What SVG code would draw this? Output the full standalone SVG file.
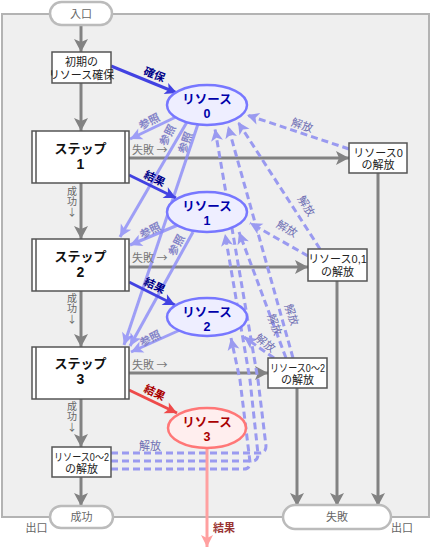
<svg xmlns="http://www.w3.org/2000/svg" width="431" height="549" viewBox="0 0 431 549">
<style>
text{font-family:"Liberation Sans","Noto Sans CJK JP",sans-serif;font-size:11px;text-anchor:middle;fill:#222}
.box{fill:#fff;stroke:#555;stroke-width:1.5}
.pill{fill:#fff;stroke:#bbb;stroke-width:2.5}
.res{fill:#eeeeff;stroke:#7777ff;stroke-width:2.5}
.res3{fill:#ffeeee;stroke:#ff7777;stroke-width:2.5}
.rt{fill:#0000aa;font-weight:bold;font-size:12.5px}
.rt3{fill:#aa0000;font-weight:bold;font-size:12.5px}
.st{font-weight:bold;font-size:13px;fill:#111}
.sn{font-size:14px}
.gl{fill:#666}
.sv{fill:#666;font-size:10px;font-family:"Noto Sans CJK JP",sans-serif;writing-mode:vertical-rl;text-orientation:upright;text-anchor:start;letter-spacing:0.5px}
.cj{font-family:"Noto Sans CJK JP",sans-serif}
.fl{fill:#777;text-anchor:start}
.sm{font-size:10.5px}
.g{fill:none;stroke:#828282;stroke-width:3;marker-end:url(#ag)}
.b{fill:none;stroke:#4242e2;stroke-width:3;marker-end:url(#ab)}
.r{fill:none;stroke:#ee4a4a;stroke-width:3;marker-end:url(#ar)}
.p{fill:none;stroke:#ffa0a0;stroke-width:3;marker-end:url(#ap)}
.l{fill:none;stroke:#8a8af8;stroke-width:3;opacity:0.8;marker-end:url(#al)}
.d{fill:none;stroke:#9a9af0;stroke-width:3;stroke-dasharray:7 4;marker-end:url(#ad)}
.bl{fill:#000088;font-weight:bold}
.rl{fill:#aa0000;font-weight:bold}
.sl{fill:#8484c8;font-weight:bold}
.kl{fill:#7070b4}
</style>
<defs>
<marker id="ag" viewBox="-13 -8 14 16" refX="0" refY="0" markerWidth="14" markerHeight="16" orient="auto" markerUnits="userSpaceOnUse"><path d="M-13,-7 L0,0 L-13,7 L-10,0 z" fill="#828282"/></marker>
<marker id="ab" viewBox="-13 -8 14 16" refX="0" refY="0" markerWidth="14" markerHeight="16" orient="auto" markerUnits="userSpaceOnUse"><path d="M-12,-6 L0,0 L-12,6 L-9,0 z" fill="#4242e2"/></marker>
<marker id="ar" viewBox="-13 -8 14 16" refX="0" refY="0" markerWidth="14" markerHeight="16" orient="auto" markerUnits="userSpaceOnUse"><path d="M-12,-6 L0,0 L-12,6 L-9,0 z" fill="#ee4a4a"/></marker>
<marker id="ap" viewBox="-13 -8 14 16" refX="0" refY="0" markerWidth="14" markerHeight="16" orient="auto" markerUnits="userSpaceOnUse"><path d="M-12,-6 L0,0 L-12,6 L-9,0 z" fill="#ffa0a0"/></marker>
<marker id="al" viewBox="-13 -8 14 16" refX="0" refY="0" markerWidth="14" markerHeight="16" orient="auto" markerUnits="userSpaceOnUse"><path d="M-12,-6 L0,0 L-12,6 L-9,0 z" fill="#8a8af8"/></marker>
<marker id="ad" viewBox="-13 -8 14 16" refX="0" refY="0" markerWidth="14" markerHeight="16" orient="auto" markerUnits="userSpaceOnUse"><path d="M-12,-6 L0,0 L-12,6 L-9,0 z" fill="#9a9af0"/></marker>
</defs>

<rect x="2" y="14" width="427" height="503" fill="#efefef" stroke="#b3b3b3" stroke-width="2"/>

<g id="connectors">
<path class="g" d="M81,25 V52"/>
<path class="g" d="M81,83 V131"/>
<path class="g" d="M81,183 V239"/>
<path class="g" d="M81,291 V347"/>
<path class="g" d="M81,399 V447"/>
<path class="g" d="M81,477 V506"/>
<path class="g" d="M129,158 H349"/>
<path class="g" d="M129,267 H308"/>
<path class="g" d="M129,373 H268"/>
<path class="g" d="M378,173 V506"/>
<path class="g" d="M337,281 V506"/>
<path class="g" d="M297,388 V506"/>

<path class="d" d="M349,149 L247,115"/>
<path class="d" d="M320,249 L238,122"/>
<path class="d" d="M308,256 L250,223"/>
<path class="d" d="M293,358 L228,126"/>
<path class="d" d="M286,358 L239,232"/>
<path class="d" d="M274,358 L244,337"/>
<path class="d" d="M111,453 H260 Q266,453 266,446 L258,380 L215,129"/>
<path class="d" d="M111,461 H252 Q258,461 258,454 L250,380 L225,234"/>
<path class="d" d="M111,469 H244 Q250,469 250,462 L240,380 L231,338"/>

<path class="l" d="M178,116 L130,139"/>
<path class="l" d="M187,122 L120,237"/>
<path class="l" d="M198,124 L124,345"/>
<path class="l" d="M178,225 L130,245"/>
<path class="l" d="M193,232 L130,346"/>
<path class="l" d="M180,330 L131,352"/>

<path class="b" d="M111,66 L177,93"/>
<path class="b" d="M129,175 L176,198"/>
<path class="b" d="M129,282 L175,305"/>
<path class="r" d="M129,390 L177,413"/>
<path class="p" d="M207,448 V547"/>

<text class="bl" transform="translate(153,78) rotate(22)">確保</text>
<text class="bl" transform="translate(153,182) rotate(26)">結果</text>
<text class="bl" transform="translate(153,289) rotate(26)">結果</text>
<text class="rl" transform="translate(153,396) rotate(26)">結果</text>
<text class="sl" transform="translate(151,125) rotate(-27)">参照</text>
<text class="sl" transform="translate(171,137) rotate(-62)">参照</text>
<text class="sl" transform="translate(189,144) rotate(-70)">参照</text>
<text class="sl" transform="translate(152,234) rotate(-27)">参照</text>
<text class="sl" transform="translate(180,247) rotate(-62)">参照</text>
<text class="sl" transform="translate(152,342) rotate(-27)">参照</text>
<text class="kl" transform="translate(301,129) rotate(18)">解放</text>
<text class="kl" transform="translate(303,208) rotate(58)">解放</text>
<text class="kl" transform="translate(285,232) rotate(30)">解放</text>
<text class="kl" transform="translate(288,316) rotate(72)">解放</text>
<text class="kl" transform="translate(271,326) rotate(70)">解放</text>
<text class="kl" transform="translate(263,346) rotate(38)">解放</text>
<text class="kl" x="150" y="450">解放</text>
<text class="fl" x="132" y="154">失敗<tspan class="cj"> →</tspan></text>
<text class="fl" x="132" y="262">失敗<tspan class="cj"> →</tspan></text>
<text class="fl" x="132" y="369">失敗<tspan class="cj"> →</tspan></text>
<text class="sv" x="72" y="186">成功↓</text>
<text class="sv" x="72" y="293">成功↓</text>
<text class="sv" x="72" y="401">成功↓</text>
<text x="224" y="532" style="fill:#993333;font-weight:bold">結果</text>
</g>

<g id="entry"><rect class="pill" x="50" y="2" width="62" height="23" rx="11.5"/><text x="81" y="18" class="gl">入口</text></g>
<g id="init"><rect class="box" x="52" y="52" width="59" height="31"/><text><tspan x="81.5" y="66">初期の</tspan><tspan x="81.5" y="79">リソース確保</tspan></text></g>
<g id="step1"><rect class="box" x="32" y="131" width="97" height="52"/><path d="M36,131 V183 M125,131 V183" stroke="#555" stroke-width="1.5"/><text class="st"><tspan x="80.5" y="153">ステップ</tspan><tspan class="sn" x="80.5" y="169">1</tspan></text></g>
<g id="step2"><rect class="box" x="32" y="239" width="97" height="52"/><path d="M36,239 V291 M125,239 V291" stroke="#555" stroke-width="1.5"/><text class="st"><tspan x="80.5" y="261">ステップ</tspan><tspan class="sn" x="80.5" y="277">2</tspan></text></g>
<g id="step3"><rect class="box" x="32" y="347" width="97" height="52"/><path d="M36,347 V399 M125,347 V399" stroke="#555" stroke-width="1.5"/><text class="st"><tspan x="80.5" y="368">ステップ</tspan><tspan class="sn" x="80.5" y="384">3</tspan></text></g>
<g id="res0"><ellipse class="res" cx="207" cy="105" rx="40" ry="20"/><text class="rt"><tspan x="207" y="104">リソース</tspan><tspan x="207" y="118">0</tspan></text></g>
<g id="res1"><ellipse class="res" cx="207" cy="212" rx="40" ry="20"/><text class="rt"><tspan x="207" y="211">リソース</tspan><tspan x="207" y="225">1</tspan></text></g>
<g id="res2"><ellipse class="res" cx="207" cy="317" rx="40" ry="19"/><text class="rt"><tspan x="207" y="317">リソース</tspan><tspan x="207" y="331">2</tspan></text></g>
<g id="res3"><ellipse class="res3" cx="207" cy="428" rx="39" ry="20"/><text class="rt3"><tspan x="207" y="427">リソース</tspan><tspan x="207" y="441">3</tspan></text></g>
<g id="rel0"><rect class="box" x="349" y="143" width="58" height="30"/><text><tspan x="378" y="157">リソース0</tspan><tspan x="378" y="169">の解放</tspan></text></g>
<g id="rel01"><rect class="box" x="308" y="249" width="59" height="32"/><text><tspan x="337.5" y="263">リソース0,1</tspan><tspan x="337.5" y="276">の解放</tspan></text></g>
<g id="rel02"><rect class="box" x="268" y="358" width="59" height="30"/><text><tspan class="sm" x="297.5" y="372" textLength="55" lengthAdjust="spacingAndGlyphs">リソース0〜2</tspan><tspan x="297.5" y="384">の解放</tspan></text></g>
<g id="relbottom"><rect class="box" x="52" y="447" width="59" height="30"/><text><tspan class="sm" x="81.5" y="461" textLength="55" lengthAdjust="spacingAndGlyphs">リソース0〜2</tspan><tspan x="81.5" y="473">の解放</tspan></text></g>
<g id="success"><rect class="pill" x="50" y="506" width="63" height="22" rx="11"/><text x="81.5" y="521" class="gl">成功</text><text x="36.5" y="532" class="gl">出口</text></g>
<g id="failure"><rect class="pill" x="283" y="505" width="108" height="24" rx="12"/><text x="337" y="521" class="gl">失敗</text><text x="402" y="532" class="gl">出口</text></g>
</svg>
